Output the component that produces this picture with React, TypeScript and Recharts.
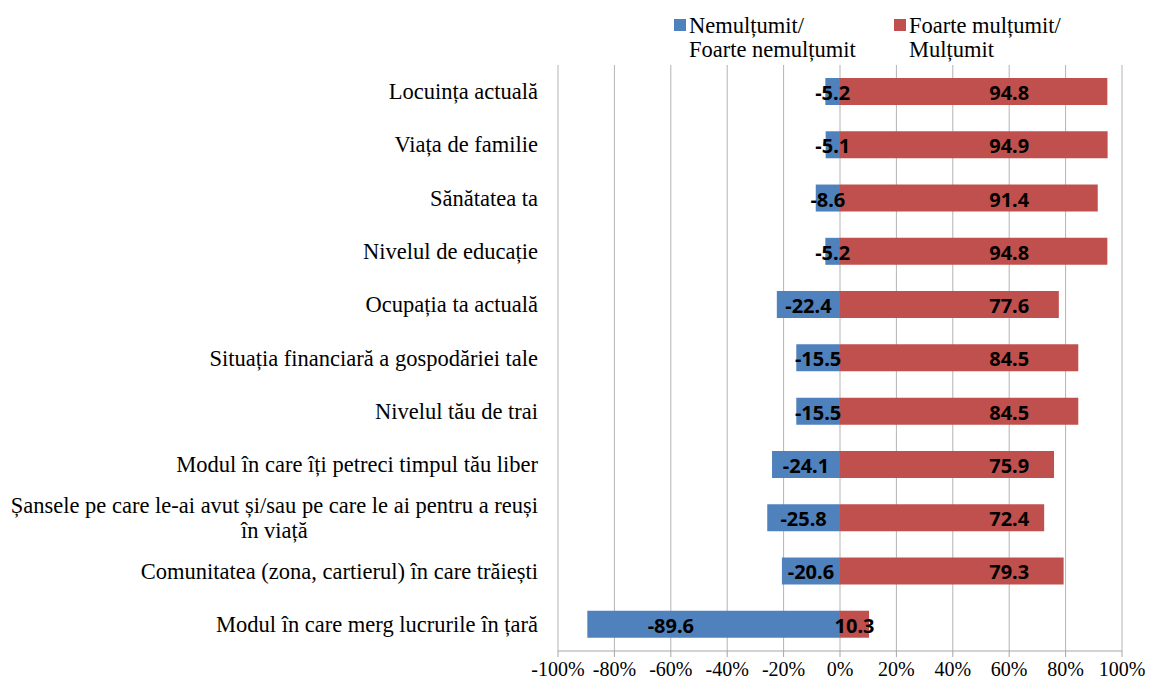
import React from 'react';
import { BarChart, Bar, XAxis, YAxis, CartesianGrid, LabelList } from 'recharts';

const categories = [
  'Locuința actuală',
  'Viața de familie',
  'Sănătatea ta',
  'Nivelul de educație',
  'Ocupația ta actuală',
  'Situația financiară a gospodăriei tale',
  'Nivelul tău de trai',
  'Modul în care îți petreci timpul tău liber',
  'Șansele pe care le-ai avut și/sau pe care le ai pentru a reuși în viață',
  'Comunitatea (zona, cartierul) în care trăiești',
  'Modul în care merg lucrurile în țară',
];

// Nemulțumit / Foarte nemulțumit (shown to the left of 0)
const nemultumit = [-5.2, -5.1, -8.6, -5.2, -22.4, -15.5, -15.5, -24.1, -25.8, -20.6, -89.6];
// Foarte mulțumit / Mulțumit
const multumit = [94.8, 94.9, 91.4, 94.8, 77.6, 84.5, 84.5, 75.9, 72.4, 79.3, 10.3];

const xTicks = [-100, -80, -60, -40, -20, 0, 20, 40, 60, 80, 100];

const legendItems = [
  { key: 'neg', color: '#4F81BD', lines: ['Nemulțumit/', 'Foarte nemulțumit'] },
  { key: 'pos', color: '#C0504D', lines: ['Foarte mulțumit/', 'Mulțumit'] },
];

const BLUE = '#4F81BD';
const RED = '#C0504D';
const SERIF = '"Liberation Serif", "Times New Roman", serif';
const SANS = '"Noto Sans", "Open Sans", sans-serif';
const CAT_FONT_SIZE = 22.5;

const data = categories.map((name, i) => ({ name, neg: nemultumit[i], pos: multumit[i] }));

let ctx: CanvasRenderingContext2D | null = null;
const measure = (s: string, font: string) => {
  if (!ctx) ctx = document.createElement('canvas').getContext('2d');
  if (!ctx) return s.length * 9;
  ctx.font = font;
  return ctx.measureText(s).width;
};

const wrap = (text: string, maxW: number, font: string) => {
  const words = text.split(' ');
  const lines: string[] = [];
  let cur = '';
  for (const w of words) {
    const t = cur ? cur + ' ' + w : w;
    if (cur && measure(t, font) > maxW) {
      lines.push(cur);
      cur = w;
    } else cur = t;
  }
  if (cur) lines.push(cur);
  return lines;
};

const CategoryTick = (props: any) => {
  const { x, y, payload } = props;
  const font = `${CAT_FONT_SIZE}px ${SERIF}`;
  const lines = wrap(String(payload.value), 530, font);
  const style = { fontFamily: SERIF, fontSize: CAT_FONT_SIZE, fill: '#000' };
  if (lines.length === 1) {
    return (
      <text x={x} y={y} textAnchor="end" dominantBaseline="central" style={style}>
        {lines[0]}
      </text>
    );
  }
  // multi-line labels are centred on the first line, like Excel does
  const mid = x - measure(lines[0], font) / 2;
  const lh = 25;
  const top = y - ((lines.length - 1) * lh) / 2;
  return (
    <g>
      {lines.map((l, i) => (
        <text key={i} x={mid} y={top + i * lh} textAnchor="middle" dominantBaseline="central" style={style}>
          {l}
        </text>
      ))}
    </g>
  );
};

const ValueLabel = (props: any) => {
  const { x, y, width, height, value } = props;
  const v = Number(value);
  if (!v) return null;
  const w = Math.abs(width);
  const left = Math.min(x, x + width);
  const zero = v < 0 ? left + w : left;
  const perUnit = w / Math.abs(v);
  // long bars get their label at +/-60%, short ones in the middle
  const cx = Math.abs(v) > 50 ? zero + Math.sign(v) * 60 * perUnit : left + w / 2;
  return (
    <text
      x={cx}
      y={y + height / 2 + 1}
      textAnchor="middle"
      dominantBaseline="central"
      style={{ fontFamily: SANS, fontWeight: 700, fontSize: 20, fill: '#000' }}
    >
      {v.toFixed(1)}
    </text>
  );
};

const App = () => {
  return (
    <div style={{ position: 'relative', width: 1146, height: 677, background: '#fff' }}>
      <div style={{ position: 'absolute', left: -2, top: -8, width: 2, height: 685, background: '#8a8a8a' }} />
      {legendItems.map((item, i) => (
        <div
          key={item.key}
          style={{
            position: 'absolute',
            left: 666 + i * 220,
            top: 6,
            display: 'flex',
            alignItems: 'flex-start',
            fontFamily: SERIF,
            fontSize: 22.5,
            lineHeight: '24px',
            color: '#000',
          }}
        >
          <div style={{ width: 12, height: 12, background: item.color, marginTop: 5, marginRight: 3 }} />
          <div style={{ fontFamily: SERIF }}>
            {item.lines.map((l) => (
              <div key={l}>{l}</div>
            ))}
          </div>
        </div>
      ))}
      <BarChart
        width={1146}
        height={677}
        data={data}
        layout="vertical"
        stackOffset="sign"
        barSize={27}
        margin={{ top: 57, right: 32, bottom: 0, left: 0 }}
      >
        <CartesianGrid horizontal={false} stroke="#b3b3b3" />
        <XAxis
          type="number"
          domain={[-100, 100]}
          ticks={xTicks}
          interval={0}
          height={34}
          tickFormatter={(v: number) => `${v}%`}
          stroke="#a6a6a6"
          tickSize={6}
          tickMargin={5}
          tick={{ fontFamily: SERIF, fontSize: 20, fill: '#000' }}
        />
        <YAxis
          type="category"
          dataKey="name"
          width={550}
          axisLine={false}
          tickLine={false}
          tickSize={0}
          tickMargin={20}
          interval={0}
          tick={<CategoryTick />}
        />
        <Bar dataKey="pos" stackId="a" fill={RED} isAnimationActive={false}>
          <LabelList dataKey="pos" content={<ValueLabel />} />
        </Bar>
        <Bar dataKey="neg" stackId="a" fill={BLUE} isAnimationActive={false}>
          <LabelList dataKey="neg" content={<ValueLabel />} />
        </Bar>
      </BarChart>
    </div>
  );
};

export default App;
